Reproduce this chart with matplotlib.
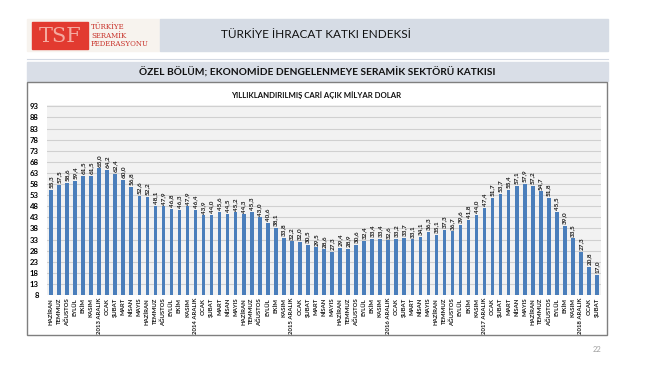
import matplotlib
matplotlib.use("Agg")
import matplotlib.pyplot as plt
from matplotlib.patches import Rectangle

plt.rcParams['font.family'] = ['Lato', 'DejaVu Sans']

# data
months = ["HAZİRAN", "TEMMUZ", "AĞUSTOS", "EYLÜL", "EKİM", "KASIM"]
year_block = ["OCAK", "ŞUBAT", "MART", "NİSAN", "MAYIS", "HAZİRAN", "TEMMUZ",
              "AĞUSTOS", "EYLÜL", "EKİM", "KASIM"]
labels = list(months)
for yr in [2013, 2014, 2015, 2016, 2017]:
    labels += [f"{yr} ARALIK"] + year_block
labels += ["2018 ARALIK", "OCAK", "ŞUBAT"]

values = [55.3, 57.5, 58.6, 59.4, 61.5, 61.5, 65.0, 64.2, 62.4, 60.0,
          56.8, 52.6, 52.2, 48.1, 47.9, 46.8, 46.3, 47.9, 46.4, 43.9,
          44.0, 45.6, 44.5, 45.2, 44.3, 45.3, 43.0, 40.6, 38.1, 33.8,
          32.2, 32.0, 30.5, 29.5, 28.6, 27.3, 29.4, 28.9, 30.6, 32.4,
          33.4, 33.4, 32.6, 33.2, 33.7, 33.1, 34.1, 36.3, 35.1, 37.3,
          36.7, 39.6, 41.8, 44.0, 47.4, 51.7, 53.7, 55.4, 57.1, 57.9,
          57.2, 54.7, 51.8, 45.5, 39.0, 33.5, 27.3, 20.8, 17.0]
yticks = list(range(8, 94, 5))

W, H = 650, 366
fig = plt.figure(figsize=(6.5, 3.66), dpi=100)

def box(x, y, w, h, **kw):
    # pixel box (top-left origin) -> rectangle in figure fraction
    r = Rectangle((x / W, 1 - (y + h) / H), w / W, h / H,
                  transform=fig.transFigure, **kw)
    fig.patches.append(r)
    return r

# header
box(27, 19, 133, 32, color="#f7f3ee", zorder=-2)
box(32, 22, 56, 27, color="#e23a30", zorder=-1)
fig.text(60 / W, 1 - 36 / H, "TSF", color="#f4aaa0", fontsize=15, ha="center",
         va="center", family="DejaVu Serif")
for i, t in enumerate(["TÜRKİYE", "SERAMİK", "FEDERASYONU"]):
    fig.text(91 / W, 1 - (27 + i * 8.5) / H, t, color="#c8322a", fontsize=5,
             ha="left", va="center", family="DejaVu Serif")
box(160, 19, 448, 32, color="#d6dce5", zorder=-2)
fig.text(316 / W, 1 - 35 / H, "TÜRKİYE İHRACAT KATKI ENDEKSİ", fontsize=8.5,
         ha="center", va="center", color="#111111")
fig.add_artist(plt.Line2D([27 / W, 608 / W], [1 - 59 / H, 1 - 59 / H],
                          transform=fig.transFigure, color="#d3d9e3", lw=0.8))

# subtitle band
box(27, 62, 581, 19, color="#d9dee7", zorder=-2)
fig.text(317 / W, 1 - 72 / H,
         "ÖZEL BÖLÜM; EKONOMİDE DENGELENMEYE SERAMİK SEKTÖRÜ KATKISI",
         fontsize=7.3, fontweight="bold", ha="center", va="center", color="#111111")

# chart frame
box(27, 82, 580, 253, facecolor="white", edgecolor="#7f7f7f", lw=1.0, zorder=-2)
fig.text(316 / W, 1 - 95 / H, "YILLIKLANDIRILMIŞ CARİ AÇIK MİLYAR DOLAR",
         fontsize=5.6, fontweight="bold", ha="center", va="center", color="#111111")

ax = fig.add_axes((47 / W, 1 - 295 / H, 554 / W, 190 / H))
ax.set_zorder(2)
ax.set_facecolor("#f2f2f2")
x = list(range(len(values)))
ax.bar(x, values, width=0.45, color="#4a7ebb", zorder=3)
for xi, v in zip(x, values):
    ax.text(xi, v + 0.8, f"{v:.1f}".replace(".", ","), rotation=90, ha="center",
            va="bottom", fontsize=4.6, fontweight="bold", color="#1a1a1a")

ax.set_ylim(8, 93.6)
ax.set_xlim(-0.5, len(values) - 0.5)
ax.set_yticks(yticks)
ax.grid(axis="y", color="#d0d0d0", lw=0.8, zorder=0)
ax.set_xticks(x)
ax.set_xticklabels(labels, rotation=90, fontsize=4.3, fontweight="bold", color="#1a1a1a")
ax.tick_params(axis="both", length=0, pad=2)
ax.tick_params(axis="y", labelsize=5.6, pad=6)
for lbl in ax.get_yticklabels():
    lbl.set_fontweight("bold")
for s in ax.spines.values():
    s.set_visible(False)

fig.text(597 / W, 1 - 350 / H, "22", fontsize=5.5, color="#a0a0a0",
         ha="center", va="center")

fig.savefig("out.png", dpi=100)
